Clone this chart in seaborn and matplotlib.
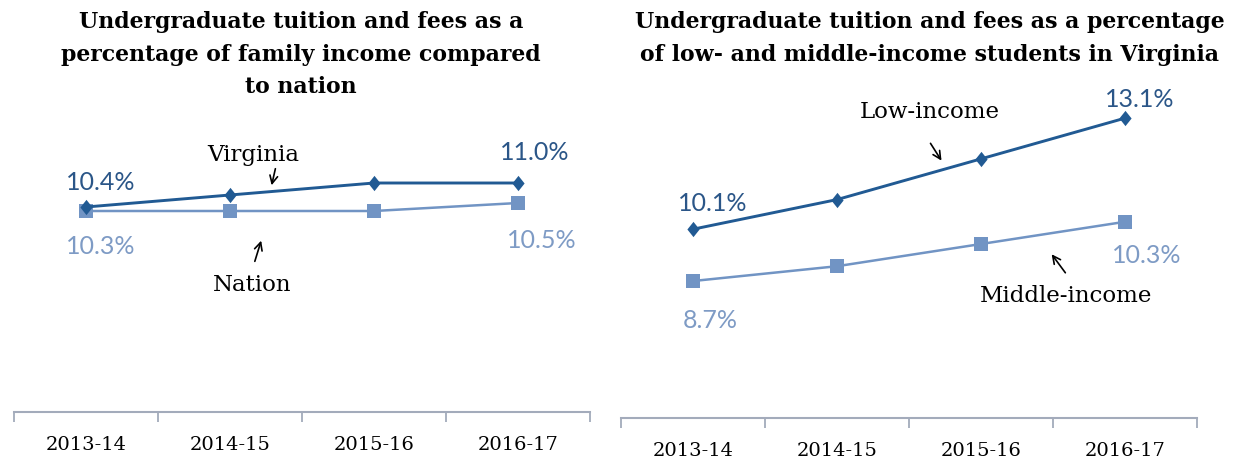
"""
Two-panel line chart: tuition and fees as a share of family income.
"""
import numpy as np
import pandas as pd
import matplotlib
matplotlib.use("Agg")
import matplotlib.pyplot as plt
import seaborn as sns

# ---- Data ----
YEARS = ["2013-14", "2014-15", "2015-16", "2016-17"]

VIRGINIA = [10.4, 10.7, 11.0, 11.0]
NATION = [10.3, 10.3, 10.3, 10.5]

LOW_INCOME = [10.1, 10.9, 12.0, 13.1]
MIDDLE_INCOME = [8.7, 9.1, 9.7, 10.3]

LEFT_TITLE = "Undergraduate tuition and fees as a\npercentage of family income compared\nto nation"
RIGHT_TITLE = "Undergraduate tuition and fees as a percentage\nof low- and middle-income students in Virginia"

# ---- Style ----
DARK = "#215A93"
LIGHT = "#7194C4"
DARK_TXT = "#2B5688"
LIGHT_TXT = "#7E9BC5"
AXIS = "#A3ABBB"
SERIF = "DejaVu Serif"
SANS = "Lato"
DIAMOND = [(0, 1), (0.8, 0), (0, -1), (-0.8, 0)]

W, H = 1236, 462

sns.set_theme(style="white")
plt.rcParams["font.family"] = [SERIF, "DejaVu Sans"]
plt.rcParams["text.color"] = "black"
plt.rcParams["xtick.labelcolor"] = "black"

fig = plt.figure(figsize=(W / 100, H / 100), dpi=100)


def box(x0, x1, y_bottom, y_top):
    """Axes rectangle from image pixel edges (top-left origin)."""
    return [x0 / W, (H - y_bottom) / H, (x1 - x0) / W, (y_bottom - y_top) / H]


def draw_series(ax, values, name, color, marker, msize, lw):
    df = pd.DataFrame({"pos": np.arange(len(YEARS)), "value": values, "series": name})
    sns.lineplot(data=df, x="pos", y="value", color=color, marker=marker,
                 markersize=msize, markeredgewidth=0, linewidth=lw,
                 ax=ax, legend=False, clip_on=False)


def label_ends(ax, values, color, first_off, last_off):
    for i, off in ((0, first_off), (len(values) - 1, last_off)):
        ax.annotate(f"{values[i]:.1f}%", xy=(i, values[i]), xytext=off,
                    textcoords="offset pixels", ha="center", va="center",
                    fontsize=18, color=color, family=[SANS, "DejaVu Sans"],
                    annotation_clip=False)


def style_axis(ax, ylim):
    ax.set_xlim(-0.5, len(YEARS) - 0.5)
    ax.set_ylim(*ylim)
    ax.set_xticks(np.arange(len(YEARS) + 1) - 0.5)
    ax.set_xticklabels([])
    ax.set_xticks(np.arange(len(YEARS)), minor=True)
    ax.set_xticklabels(YEARS, minor=True, fontsize=14)
    ax.tick_params(axis="x", which="major", direction="out", length=7,
                   width=1.3, color=AXIS, bottom=True)
    ax.tick_params(axis="x", which="minor", length=0, pad=17)
    ax.set_yticks([])
    ax.set_xlabel("")
    ax.set_ylabel("")
    sns.despine(ax=ax, left=True)
    ax.spines["bottom"].set_color(AXIS)
    ax.spines["bottom"].set_linewidth(1.5)
    ax.patch.set_alpha(0)


def callout(text, text_xy, start, end):
    """Text label with a thin arrow, in image pixels."""
    fig.text(text_xy[0] / W, 1 - text_xy[1] / H, text, ha="center", va="center",
             fontsize=16.5, color="black")
    fig.add_artist(matplotlib.patches.FancyArrowPatch(
        (start[0] / W, 1 - start[1] / H), (end[0] / W, 1 - end[1] / H),
        transform=fig.transFigure, arrowstyle="->", mutation_scale=14,
        lw=1.2, color="black"))


# ---- Left panel ----
ax1 = fig.add_axes(box(14, 590, 412, 130))
draw_series(ax1, NATION, "Nation", LIGHT, "s", 10, 1.8)
draw_series(ax1, VIRGINIA, "Virginia", DARK, DIAMOND, 11, 2.1)
style_axis(ax1, (5.275, 12.325))
label_ends(ax1, VIRGINIA, DARK_TXT, (15, 25), (17, 31))
label_ends(ax1, NATION, LIGHT_TXT, (15, -35), (24, -37))

# ---- Right panel ----
ax2 = fig.add_axes(box(621, 1197, 418, 100))
draw_series(ax2, MIDDLE_INCOME, "Middle-income", LIGHT, "s", 10, 1.8)
draw_series(ax2, LOW_INCOME, "Low-income", DARK, DIAMOND, 11, 2.1)
style_axis(ax2, (5.0, 13.59))
label_ends(ax2, LOW_INCOME, DARK_TXT, (20, 26), (15, 19))
label_ends(ax2, MIDDLE_INCOME, LIGHT_TXT, (17, -39), (22, -34))

# ---- Titles ----
fig.text(301 / W, 1 - 11 / H, LEFT_TITLE, ha="center", va="top",
         fontsize=15.8, fontweight="bold", linespacing=1.62)
fig.text(930 / W, 1 - 11 / H, RIGHT_TITLE, ha="center", va="top",
         fontsize=15.8, fontweight="bold", linespacing=1.62)

# ---- Callouts ----
callout("Virginia", (253, 155), (276, 166), (271, 188))
callout("Nation", (252, 285), (254, 264), (262, 238))
callout("Low-income", (930, 112), (929, 141), (943, 163))
callout("Middle-income", (1066, 296), (1067, 275), (1050, 252))

plt.savefig("out.png", dpi=100)
plt.close()
